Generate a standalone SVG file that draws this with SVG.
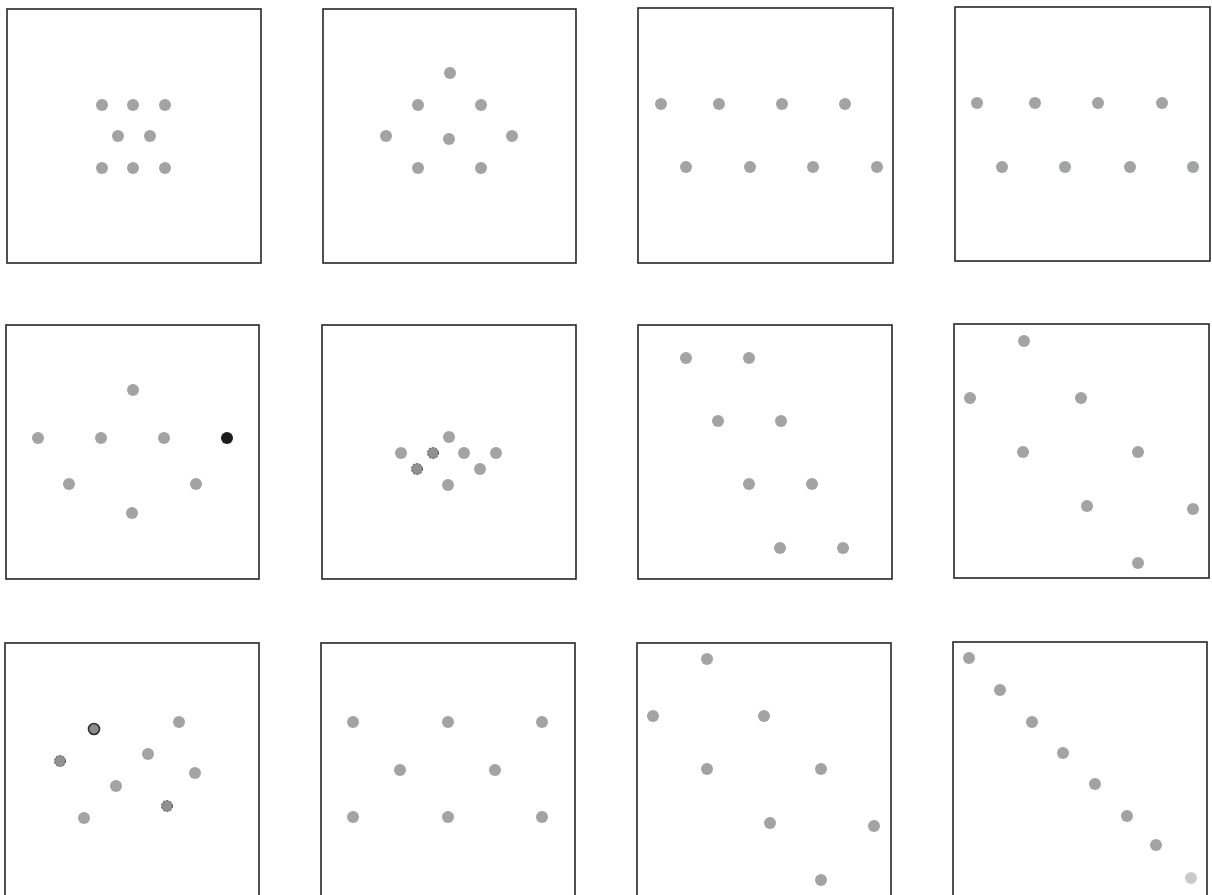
<svg xmlns="http://www.w3.org/2000/svg" width="1212" height="895" viewBox="0 0 1212 895">
<style>
.frame{fill:#fff;stroke:#262626;stroke-width:1.6}
.d{fill:#a1a4a3}
.k{fill:#1c1c1c}
.s{fill:#8f9291;stroke:#4a4a4a;stroke-width:1;stroke-dasharray:2 1.5}
.r{fill:#8a8d8c;stroke:#2e2e2e;stroke-width:1.6}
.l{fill:#c9cbca}
</style>
<rect width="1212" height="895" fill="#fff"/>
<g id="panel1">
<rect class="frame" x="7" y="9" width="254" height="254"/>
<circle class="d" cx="102" cy="105" r="6"/><circle class="d" cx="133" cy="105" r="6"/><circle class="d" cx="165" cy="105" r="6"/>
<circle class="d" cx="118" cy="136" r="6"/><circle class="d" cx="150" cy="136" r="6"/>
<circle class="d" cx="102" cy="168" r="6"/><circle class="d" cx="133" cy="168" r="6"/><circle class="d" cx="165" cy="168" r="6"/>
</g>
<g id="panel2">
<rect class="frame" x="323" y="9" width="253" height="254"/>
<circle class="d" cx="450" cy="73" r="6"/>
<circle class="d" cx="418" cy="105" r="6"/><circle class="d" cx="481" cy="105" r="6"/>
<circle class="d" cx="386" cy="136" r="6"/><circle class="d" cx="449" cy="139" r="6"/><circle class="d" cx="512" cy="136" r="6"/>
<circle class="d" cx="418" cy="168" r="6"/><circle class="d" cx="481" cy="168" r="6"/>
</g>
<g id="panel3">
<rect class="frame" x="638" y="8" width="255" height="255"/>
<circle class="d" cx="661" cy="104" r="6"/><circle class="d" cx="719" cy="104" r="6"/><circle class="d" cx="782" cy="104" r="6"/><circle class="d" cx="845" cy="104" r="6"/>
<circle class="d" cx="686" cy="167" r="6"/><circle class="d" cx="750" cy="167" r="6"/><circle class="d" cx="813" cy="167" r="6"/><circle class="d" cx="877" cy="167" r="6"/>
</g>
<g id="panel4">
<rect class="frame" x="955" y="7" width="255" height="254"/>
<circle class="d" cx="977" cy="103" r="6"/><circle class="d" cx="1035" cy="103" r="6"/><circle class="d" cx="1098" cy="103" r="6"/><circle class="d" cx="1162" cy="103" r="6"/>
<circle class="d" cx="1002" cy="167" r="6"/><circle class="d" cx="1065" cy="167" r="6"/><circle class="d" cx="1130" cy="167" r="6"/><circle class="d" cx="1193" cy="167" r="6"/>
</g>
<g id="panel5">
<rect class="frame" x="6" y="325" width="253" height="254"/>
<circle class="d" cx="133" cy="390" r="6"/>
<circle class="d" cx="38" cy="438" r="6"/><circle class="d" cx="101" cy="438" r="6"/><circle class="d" cx="164" cy="438" r="6"/><circle class="k" cx="227" cy="438" r="6"/>
<circle class="d" cx="69" cy="484" r="6"/><circle class="d" cx="196" cy="484" r="6"/>
<circle class="d" cx="132" cy="513" r="6"/>
</g>
<g id="panel6">
<rect class="frame" x="322" y="325" width="254" height="254"/>
<circle class="d" cx="449" cy="437" r="6"/>
<circle class="d" cx="401" cy="453" r="6"/><circle class="s" cx="433" cy="453" r="5.5"/><circle class="d" cx="464" cy="453" r="6"/><circle class="d" cx="496" cy="453" r="6"/>
<circle class="s" cx="417" cy="469" r="5.5"/><circle class="d" cx="480" cy="469" r="6"/>
<circle class="d" cx="448" cy="485" r="6"/>
</g>
<g id="panel7">
<rect class="frame" x="638" y="325" width="254" height="254"/>
<circle class="d" cx="686" cy="358" r="6"/><circle class="d" cx="749" cy="358" r="6"/>
<circle class="d" cx="718" cy="421" r="6"/><circle class="d" cx="781" cy="421" r="6"/>
<circle class="d" cx="749" cy="484" r="6"/><circle class="d" cx="812" cy="484" r="6"/>
<circle class="d" cx="780" cy="548" r="6"/><circle class="d" cx="843" cy="548" r="6"/>
</g>
<g id="panel8">
<rect class="frame" x="954" y="324" width="255" height="254"/>
<circle class="d" cx="1024" cy="341" r="6"/>
<circle class="d" cx="970" cy="398" r="6"/><circle class="d" cx="1081" cy="398" r="6"/>
<circle class="d" cx="1023" cy="452" r="6"/><circle class="d" cx="1138" cy="452" r="6"/>
<circle class="d" cx="1087" cy="506" r="6"/><circle class="d" cx="1193" cy="509" r="6"/>
<circle class="d" cx="1138" cy="563" r="6"/>
</g>
<g id="panel9">
<rect class="frame" x="5" y="643" width="254" height="256"/>
<circle class="r" cx="94" cy="729" r="5.5"/><circle class="d" cx="179" cy="722" r="6"/>
<circle class="s" cx="60" cy="761" r="5.5"/><circle class="d" cx="148" cy="754" r="6"/>
<circle class="d" cx="195" cy="773" r="6"/><circle class="d" cx="116" cy="786" r="6"/>
<circle class="s" cx="167" cy="806" r="5.5"/><circle class="d" cx="84" cy="818" r="6"/>
</g>
<g id="panel10">
<rect class="frame" x="321" y="643" width="254" height="256"/>
<circle class="d" cx="353" cy="722" r="6"/><circle class="d" cx="448" cy="722" r="6"/><circle class="d" cx="542" cy="722" r="6"/>
<circle class="d" cx="400" cy="770" r="6"/><circle class="d" cx="495" cy="770" r="6"/>
<circle class="d" cx="353" cy="817" r="6"/><circle class="d" cx="448" cy="817" r="6"/><circle class="d" cx="542" cy="817" r="6"/>
</g>
<g id="panel11">
<rect class="frame" x="637" y="643" width="254" height="256"/>
<circle class="d" cx="707" cy="659" r="6"/>
<circle class="d" cx="653" cy="716" r="6"/><circle class="d" cx="764" cy="716" r="6"/>
<circle class="d" cx="707" cy="769" r="6"/><circle class="d" cx="821" cy="769" r="6"/>
<circle class="d" cx="770" cy="823" r="6"/><circle class="d" cx="874" cy="826" r="6"/>
<circle class="d" cx="821" cy="880" r="6"/>
</g>
<g id="panel12">
<rect class="frame" x="953" y="642" width="254" height="257"/>
<circle class="d" cx="969" cy="658" r="6"/><circle class="d" cx="1000" cy="690" r="6"/><circle class="d" cx="1032" cy="722" r="6"/><circle class="d" cx="1063" cy="753" r="6"/>
<circle class="d" cx="1095" cy="784" r="6"/><circle class="d" cx="1127" cy="816" r="6"/><circle class="d" cx="1156" cy="845" r="6"/><circle class="l" cx="1191" cy="878" r="6"/>
</g>
<g id="connectors"/>
</svg>
